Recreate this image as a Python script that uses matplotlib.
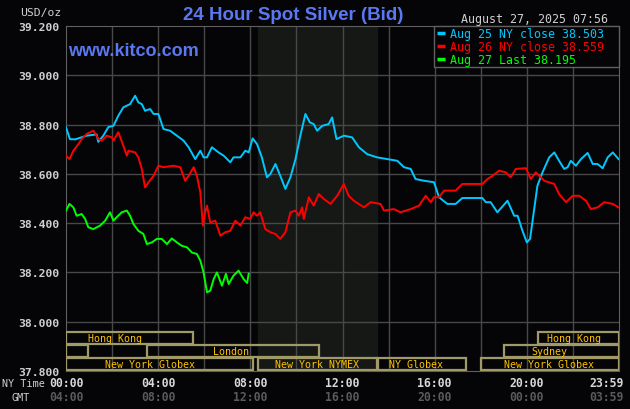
import matplotlib.pyplot as plt
from matplotlib.patches import Rectangle
from matplotlib.lines import Line2D

# hours (NY time) and prices
aug25_h = [0, 0.17, 0.4, 0.9, 1.33, 1.4, 1.62, 1.84, 2.06, 2.27, 2.49, 2.78, 3.0, 3.14, 3.29,
           3.43, 3.65, 3.8, 4.01, 4.23, 4.52, 4.81, 5.1, 5.32, 5.61, 5.83, 5.97, 6.12, 6.33,
           6.62, 6.84, 7.13, 7.27, 7.57, 7.78, 7.93, 8.1, 8.29, 8.5, 8.72, 8.87, 9.09, 9.3,
           9.52, 9.74, 9.96, 10.17, 10.39, 10.58, 10.75, 10.9, 11.12, 11.4, 11.55, 11.74,
           12.06, 12.42, 12.71, 13.07, 13.5, 13.94, 14.38, 14.67, 14.96, 15.17, 15.54, 15.97,
           16.19, 16.55, 16.91, 17.2, 18.07, 18.22, 18.43, 18.72, 19.16, 19.45, 19.6, 19.81,
           20.0, 20.14, 20.27, 20.46, 20.68, 20.97, 21.19, 21.4, 21.62, 21.77, 21.91, 22.13,
           22.35, 22.64, 22.86, 23.07, 23.29, 23.51, 23.73, 23.98]
aug25_p = [38.789, 38.741, 38.74, 38.755, 38.76, 38.73, 38.755, 38.79, 38.795, 38.836, 38.87,
           38.883, 38.917, 38.89, 38.883, 38.856, 38.863, 38.843, 38.843, 38.782, 38.775,
           38.755, 38.735, 38.708, 38.66, 38.694, 38.667, 38.667, 38.708, 38.687, 38.674,
           38.647, 38.667, 38.667, 38.694, 38.687, 38.744, 38.721, 38.667, 38.586, 38.6,
           38.64, 38.592, 38.539, 38.586, 38.66, 38.755, 38.843, 38.809, 38.802, 38.775,
           38.795, 38.802, 38.829, 38.741, 38.755, 38.748, 38.708, 38.68, 38.667, 38.66,
           38.653, 38.627, 38.62, 38.579, 38.572, 38.566, 38.505, 38.478, 38.478, 38.502,
           38.502, 38.485, 38.485, 38.444, 38.491, 38.43, 38.43, 38.369, 38.322, 38.336,
           38.424, 38.552, 38.606, 38.667, 38.687, 38.653, 38.62, 38.627, 38.653, 38.633,
           38.66, 38.685, 38.64, 38.64, 38.623, 38.667, 38.687, 38.66]

aug26_h = [0, 0.15, 0.32, 0.54, 0.68, 0.9, 1.19, 1.41, 1.55, 1.77, 1.99, 2.06, 2.27, 2.49,
           2.64, 2.71, 3.0, 3.14, 3.29, 3.43, 3.58, 3.8, 4.01, 4.23, 4.67, 4.96, 5.17, 5.32,
           5.54, 5.68, 5.83, 5.94, 6.04, 6.12, 6.26, 6.48, 6.7, 6.91, 7.13, 7.35, 7.57, 7.78,
           8.0, 8.14, 8.29, 8.43, 8.65, 8.87, 9.09, 9.3, 9.52, 9.74, 9.96, 10.1, 10.25, 10.32,
           10.54, 10.75, 10.97, 11.19, 11.48, 11.77, 12.06, 12.27, 12.49, 12.93, 13.22, 13.65,
           13.8, 14.23, 14.52, 14.96, 15.32, 15.61, 15.83, 15.97, 16.19, 16.41, 16.91, 17.2,
           18.07, 18.29, 18.51, 18.8, 19.09, 19.3, 19.52, 19.96, 20.17, 20.39, 20.61, 20.75,
           21.19, 21.4, 21.7, 21.99, 22.27, 22.57, 22.78, 23.07, 23.36, 23.73, 23.98]
aug26_p = [38.674, 38.66, 38.694, 38.721, 38.741, 38.762, 38.775, 38.741, 38.735, 38.755,
           38.748, 38.735, 38.769, 38.714, 38.674, 38.694, 38.687, 38.667, 38.62, 38.545,
           38.566, 38.592, 38.633, 38.627, 38.633, 38.627, 38.572, 38.592, 38.627, 38.592,
           38.525, 38.39, 38.444, 38.471, 38.403, 38.41, 38.349, 38.363, 38.369, 38.41,
           38.39, 38.424, 38.417, 38.444, 38.43, 38.444, 38.376, 38.363, 38.356, 38.336,
           38.363, 38.444, 38.451, 38.43, 38.464, 38.417, 38.505, 38.471, 38.518, 38.498,
           38.478, 38.511, 38.559, 38.511, 38.491, 38.464, 38.485, 38.478, 38.451, 38.457,
           38.444, 38.457, 38.471, 38.511, 38.485, 38.505, 38.505, 38.532, 38.532, 38.559,
           38.559, 38.579, 38.592, 38.613, 38.606, 38.586, 38.62, 38.623, 38.579, 38.606,
           38.586, 38.572, 38.559, 38.518, 38.485, 38.511, 38.511, 38.491, 38.457, 38.464,
           38.485, 38.478, 38.464]

aug27_h = [0, 0.15, 0.32, 0.46, 0.68, 0.83, 0.97, 1.19, 1.48, 1.7, 1.91, 2.06, 2.2, 2.42,
           2.64, 2.78, 2.93, 3.14, 3.36, 3.51, 3.73, 3.94, 4.16, 4.38, 4.59, 4.81, 5.03, 5.25,
           5.46, 5.68, 5.83, 5.97, 6.12, 6.26, 6.41, 6.55, 6.77, 6.94, 7.06, 7.27, 7.49, 7.71,
           7.86, 7.93]
aug27_p = [38.451, 38.478, 38.464, 38.43, 38.437, 38.417, 38.383, 38.376, 38.39, 38.41,
           38.444, 38.41, 38.424, 38.444, 38.451, 38.43, 38.396, 38.369, 38.356, 38.315,
           38.322, 38.336, 38.336, 38.315, 38.338, 38.322, 38.308, 38.302, 38.281, 38.275,
           38.248, 38.2, 38.119, 38.126, 38.173, 38.2, 38.146, 38.194, 38.153, 38.187,
           38.207, 38.173, 38.157, 38.195]

labels = ["Aug 25 NY close 38.503", "Aug 26 NY close 38.559", "Aug 27 Last 38.195"]
colors = ["#00c8ff", "#ff0000", "#00ff00"]

# market sessions: name, start hour, end hour, row (0 = top), label position
sess_names = ["Hong Kong", "", "London", "New York Globex", "New York NYMEX",
              "NY Globex", "New York Globex", "Sydney", "Hong Kong"]
sess_start = [0, 0, 3.5, 0, 8.33, 13.55, 18.0, 19.0, 20.5]
sess_end = [5.5, 0.95, 11.0, 8.1, 13.5, 17.35, 24, 24, 24]
sess_row = [0, 1, 1, 2, 2, 2, 2, 1, 0]
sess_label_x = [2.13, 0, 7.16, 3.65, 10.9, 15.19, 20.96, 21.0, 22.05]

x_ticks = [0, 4, 8, 12, 16, 20, 23.983]
ny_labels = ["00:00", "04:00", "08:00", "12:00", "16:00", "20:00", "23:59"]
gmt_labels = ["04:00", "08:00", "12:00", "16:00", "20:00", "00:00", "03:59"]
y_ticks = [37.8, 38.0, 38.2, 38.4, 38.6, 38.8, 39.0, 39.2]

bg = "#050508"
mono = "DejaVu Sans Mono"

fig = plt.figure(figsize=(6.3, 4.1), dpi=100, facecolor=bg)
ax = fig.add_axes([66 / 630, 1 - 372 / 410, 553 / 630, 345 / 410])
ax.set_facecolor(bg)
ax.set_xlim(0, 24)
ax.set_ylim(37.8, 39.2)

# NYMEX pit hours shading
ax.axvspan(8.33, 13.5, color="#161816", zorder=0)

for h in range(2, 24, 2):
    ax.axvline(h, color="#484848", lw=1, zorder=1)
for v in y_ticks[1:-1]:
    ax.axhline(v, color="#484848", lw=1, zorder=1)

for sp in ax.spines.values():
    sp.set_color("#606060")
ax.tick_params(length=0, colors="#d0d0d0")
ax.set_xticks([])
ax.set_yticks(y_ticks)
ax.set_yticklabels(["%.3f" % v for v in y_ticks], fontfamily=mono,
                   fontweight="bold", fontsize=8.2)
ax.yaxis.set_tick_params(pad=5)

for h, p, c in zip([aug25_h, aug26_h, aug27_h], [aug25_p, aug26_p, aug27_p], colors):
    ax.plot(h, p, color=c, lw=1.4, zorder=3)

# session boxes
row_top = [37.957, 37.906, 37.853]
row_h = 0.049
for name, s, e, r, lx in zip(sess_names, sess_start, sess_end, sess_row, sess_label_x):
    ax.add_patch(Rectangle((s, row_top[r] - row_h), e - s, row_h, fill=False,
                           ec="#a09a68", lw=1.6, zorder=4))
    if name:
        ax.text(lx, row_top[r] - row_h / 2, name, color="#ffc400",
                fontfamily=mono, fontsize=7.2, ha="center", va="center", zorder=5)

handles = [Line2D([], [], color=c, marker="_", markersize=6, mew=2.5, ls="none")
           for c in colors]
leg = ax.legend(handles, [l + "  " for l in labels], loc="upper right",
                handlelength=1.0, handletextpad=0.28, labelspacing=0.0,
                borderpad=0.1, borderaxespad=0, frameon=True, fancybox=False,
                facecolor=bg, edgecolor="#606060", framealpha=1,
                prop={"family": mono, "size": 8.4})
for t, c in zip(leg.get_texts(), colors):
    t.set_color(c)
leg.set_zorder(6)

fig.text(293 / 630, 1 - 15 / 410, "24 Hour Spot Silver (Bid)", color="#5a78f0",
         fontfamily="Liberation Sans", fontweight="bold", fontsize=13.5,
         ha="center", va="center")
fig.text(68 / 630, 1 - 51 / 410, "www.kitco.com", color="#5a78f0",
         fontfamily="Liberation Sans", fontweight="bold", fontsize=13,
         ha="left", va="center")
fig.text(608 / 630, 1 - 19 / 410, "August 27, 2025 07:56", color="#d0d0d0",
         fontfamily=mono, fontsize=8.4, ha="right", va="center")
fig.text(61 / 630, 1 - 13 / 410, "USD/oz", color="#d0d0d0", fontfamily=mono,
         fontsize=8.2, ha="right", va="center")

fig.text(2 / 630, 1 - 384 / 410, "NY Time", color="#d0d0d0", fontfamily=mono,
         fontsize=7.3, ha="left", va="center")
fig.text(11 / 630, 1 - 398 / 410, "GMT", color="#d0d0d0", fontfamily=mono,
         fontsize=7.3, ha="left", va="center")
for i, (t, ny, gmt) in enumerate(zip(x_ticks, ny_labels, gmt_labels)):
    last = i == len(x_ticks) - 1
    dx = 5 if last else 0
    ha = "right" if last else "center"
    ax.annotate(ny, (t, 0), xycoords=("data", "axes fraction"), xytext=(dx, -12),
                textcoords="offset pixels", color="#d8d8d8", fontfamily=mono,
                fontweight="bold", fontsize=8.3, ha=ha, va="center")
    ax.annotate(gmt, (t, 0), xycoords=("data", "axes fraction"), xytext=(dx, -26),
                textcoords="offset pixels", color="#5a5a5a", fontfamily=mono,
                fontweight="bold", fontsize=8.3, ha=ha, va="center")

fig.savefig("out.png", dpi=100, facecolor=bg)
